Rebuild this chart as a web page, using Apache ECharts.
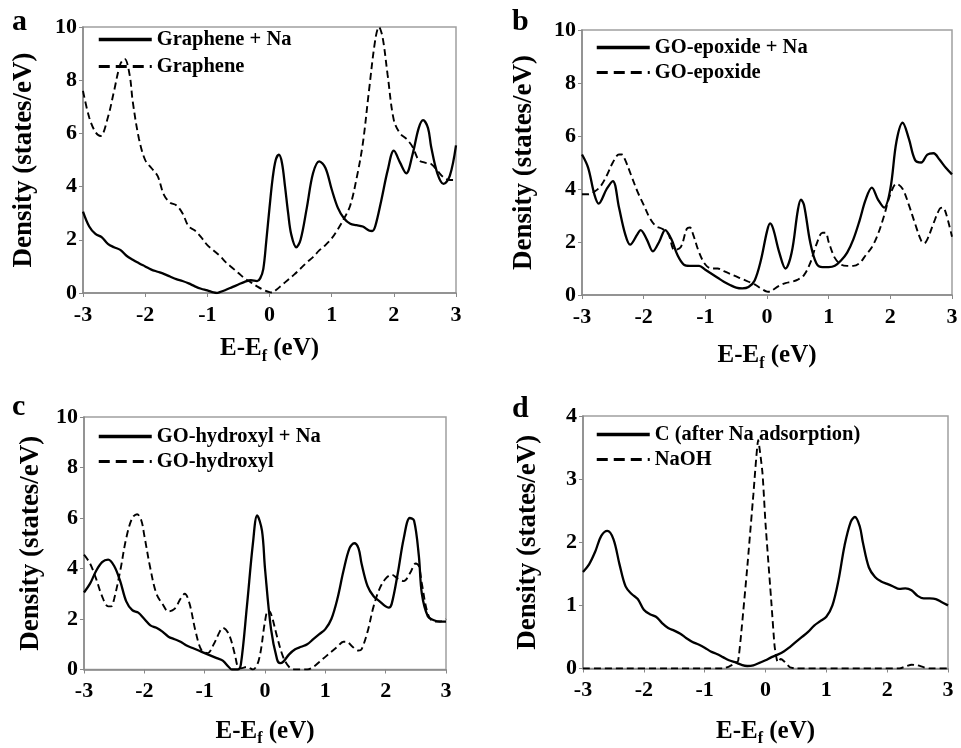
<!DOCTYPE html>
<html>
<head>
<meta charset="utf-8">
<script src="https://cdn.jsdelivr.net/npm/echarts@6/dist/echarts.min.js"></script>
<style>
  html, body { margin: 0; padding: 0; background: #fff; }
  #main { width: 961px; height: 748px; }
</style>
</head>
<body>
<div id="main"></div>
<script>
/* DOS panels a-d */
var xTicks = [-3, -2, -1, 0, 1, 2, 3];

// a: graphene
var grapheneNaE = [-3,-2.9,-2.8,-2.7,-2.6,-2.5,-2.4,-2.3,-2.2,-2.1,-2,-1.9,-1.8,-1.7,-1.6,-1.5,-1.4,-1.3,-1.2,-1.1,-1,-0.9,-0.85,-0.8,-0.7,-0.6,-0.5,-0.4,-0.3,-0.2,-0.15,-0.1,-0.05,0,0.05,0.1,0.15,0.2,0.25,0.3,0.35,0.43,0.5,0.6,0.7,0.8,0.9,1,1.1,1.2,1.3,1.4,1.5,1.6,1.65,1.7,1.8,1.9,2,2.1,2.2,2.3,2.4,2.47,2.55,2.6,2.7,2.8,2.9,3];
var grapheneNaD = [3.06,2.5,2.22,2.1,1.85,1.72,1.62,1.4,1.25,1.12,1.0,0.88,0.8,0.72,0.62,0.52,0.45,0.36,0.25,0.16,0.1,0.02,0.0,0.03,0.12,0.22,0.32,0.42,0.48,0.45,0.55,0.9,2.0,3.2,4.3,5.0,5.2,4.9,4.0,3.0,2.2,1.72,2.0,3.2,4.5,4.95,4.7,3.9,3.2,2.8,2.6,2.55,2.5,2.35,2.33,2.5,3.5,4.6,5.35,4.9,4.5,5.2,6.2,6.5,6.2,5.5,4.5,4.1,4.4,5.55];
var grapheneE = [-3,-2.9,-2.8,-2.72,-2.6,-2.5,-2.4,-2.33,-2.25,-2.2,-2.1,-2,-1.9,-1.8,-1.7,-1.6,-1.5,-1.4,-1.3,-1.2,-1.1,-1,-0.9,-0.8,-0.7,-0.6,-0.5,-0.4,-0.3,-0.2,-0.1,0,0.05,0.1,0.2,0.3,0.4,0.5,0.6,0.7,0.8,0.9,1,1.1,1.2,1.3,1.4,1.5,1.6,1.7,1.76,1.82,1.9,2,2.1,2.2,2.3,2.4,2.5,2.6,2.7,2.8,2.9,3];
var grapheneD = [7.6,6.6,6.05,5.9,6.6,7.6,8.6,8.8,8.2,7.2,5.8,5.0,4.7,4.4,3.7,3.4,3.3,3.0,2.5,2.35,2.1,1.8,1.6,1.4,1.15,0.95,0.75,0.55,0.4,0.25,0.12,0.03,0.02,0.1,0.3,0.5,0.7,0.92,1.15,1.35,1.6,1.8,2.05,2.4,2.8,3.3,4.3,5.6,7.6,9.5,10.0,9.6,8.2,6.5,6.0,5.8,5.5,5.0,4.9,4.85,4.6,4.35,4.25,4.25];

// b: GO-epoxide
var epoxideNaE = [-3,-2.9,-2.8,-2.73,-2.6,-2.5,-2.4,-2.3,-2.22,-2.1,-2.05,-1.95,-1.85,-1.75,-1.65,-1.55,-1.45,-1.35,-1.25,-1.1,-1,-0.9,-0.8,-0.7,-0.6,-0.5,-0.4,-0.3,-0.2,-0.1,0,0.05,0.1,0.2,0.3,0.4,0.5,0.55,0.6,0.7,0.8,0.9,1,1.1,1.2,1.3,1.4,1.5,1.6,1.7,1.8,1.9,2,2.1,2.2,2.3,2.4,2.5,2.6,2.7,2.8,2.9,3];
var epoxideNaD = [5.3,4.8,3.8,3.45,4.0,4.3,3.3,2.3,1.9,2.3,2.45,2.1,1.65,2.0,2.45,2.1,1.5,1.15,1.1,1.1,0.95,0.8,0.65,0.5,0.38,0.28,0.25,0.3,0.55,1.3,2.4,2.7,2.5,1.6,1.0,1.6,3.2,3.6,3.4,2.0,1.2,1.05,1.05,1.1,1.3,1.6,2.1,2.8,3.6,4.05,3.6,3.3,4.0,5.8,6.5,5.9,5.1,5.0,5.3,5.35,5.1,4.8,4.55];
var epoxideE = [-3,-2.9,-2.8,-2.7,-2.6,-2.5,-2.4,-2.35,-2.3,-2.2,-2.1,-2,-1.9,-1.8,-1.7,-1.6,-1.5,-1.4,-1.3,-1.25,-1.2,-1.1,-1,-0.9,-0.8,-0.7,-0.6,-0.5,-0.4,-0.3,-0.2,-0.1,0,0.05,0.1,0.2,0.3,0.4,0.5,0.6,0.7,0.8,0.9,0.95,1,1.1,1.2,1.3,1.4,1.5,1.6,1.7,1.8,1.9,2,2.1,2.2,2.3,2.4,2.5,2.55,2.6,2.7,2.8,2.85,2.9,3];
var epoxideD = [3.8,3.8,3.9,4.1,4.5,5.0,5.3,5.3,5.1,4.5,3.9,3.4,2.9,2.6,2.5,2.3,1.7,1.8,2.5,2.55,2.3,1.6,1.15,1.0,1.0,0.9,0.8,0.7,0.6,0.5,0.4,0.25,0.13,0.12,0.2,0.35,0.45,0.5,0.58,0.75,1.2,1.9,2.35,2.35,2.0,1.4,1.15,1.1,1.1,1.2,1.5,1.8,2.3,3.0,3.8,4.2,4.0,3.4,2.7,2.05,1.95,2.1,2.7,3.25,3.3,3.1,2.2];

// c: GO-hydroxyl
var hydroxylNaE = [-3,-2.9,-2.8,-2.7,-2.6,-2.5,-2.4,-2.3,-2.2,-2.1,-2,-1.9,-1.8,-1.7,-1.6,-1.5,-1.4,-1.3,-1.2,-1.1,-1,-0.9,-0.8,-0.7,-0.6,-0.55,-0.45,-0.4,-0.3,-0.2,-0.13,-0.05,0,0.1,0.2,0.25,0.3,0.4,0.5,0.6,0.7,0.8,0.9,1,1.1,1.2,1.3,1.4,1.48,1.55,1.6,1.7,1.8,1.9,2,2.05,2.1,2.2,2.3,2.4,2.47,2.55,2.6,2.7,2.8,2.9,3];
var hydroxylNaD = [3.05,3.4,3.9,4.25,4.35,4.1,3.5,2.7,2.35,2.25,2.0,1.75,1.65,1.5,1.3,1.2,1.1,0.95,0.85,0.75,0.65,0.55,0.45,0.35,0.1,0.0,0.0,0.2,2.5,5.0,6.1,5.5,4.0,1.6,0.4,0.25,0.3,0.6,0.8,0.9,1.0,1.2,1.4,1.6,2.0,2.8,3.9,4.8,5.0,4.8,4.2,3.3,2.9,2.7,2.5,2.45,2.6,3.8,5.2,6.0,5.9,4.5,3.0,2.1,1.95,1.9,1.9];
var hydroxylE = [-3,-2.9,-2.8,-2.7,-2.6,-2.55,-2.5,-2.4,-2.3,-2.2,-2.12,-2.05,-2,-1.9,-1.8,-1.7,-1.6,-1.5,-1.4,-1.33,-1.25,-1.15,-1.05,-0.95,-0.85,-0.75,-0.7,-0.6,-0.5,-0.45,-0.4,-0.3,-0.2,-0.1,0,0.05,0.1,0.2,0.3,0.4,0.5,0.6,0.7,0.8,0.9,1,1.1,1.2,1.3,1.35,1.45,1.55,1.6,1.7,1.8,1.9,2,2.1,2.2,2.3,2.4,2.5,2.55,2.6,2.7,2.8,2.9,3];
var hydroxylD = [4.55,4.2,3.6,2.9,2.5,2.5,2.8,3.9,5.2,6.0,6.15,5.9,5.3,4.0,3.0,2.6,2.3,2.4,2.8,3.0,2.6,1.5,0.75,0.65,1.0,1.5,1.65,1.4,0.6,0.1,0.05,0.1,0.0,0.4,1.9,2.35,2.2,1.3,0.5,0.1,0.0,0.0,0.0,0.1,0.3,0.5,0.7,0.9,1.1,1.1,0.9,0.75,0.8,1.5,2.5,3.2,3.6,3.75,3.6,3.5,3.8,4.2,4.1,3.4,2.2,1.9,1.9,2.0];

// d: C after Na adsorption / NaOH
var carbonE = [-3,-2.9,-2.8,-2.7,-2.6,-2.5,-2.4,-2.3,-2.2,-2.1,-2,-1.9,-1.8,-1.7,-1.6,-1.5,-1.4,-1.3,-1.2,-1.1,-1,-0.9,-0.8,-0.7,-0.6,-0.5,-0.4,-0.3,-0.2,-0.1,0,0.1,0.2,0.3,0.4,0.5,0.6,0.7,0.8,0.9,1,1.1,1.2,1.3,1.4,1.47,1.55,1.6,1.7,1.8,1.9,2,2.1,2.2,2.3,2.4,2.5,2.6,2.7,2.8,2.9,3];
var carbonD = [1.53,1.65,1.85,2.1,2.18,2.05,1.65,1.3,1.18,1.1,0.93,0.86,0.82,0.72,0.64,0.6,0.55,0.48,0.42,0.38,0.33,0.27,0.23,0.18,0.13,0.1,0.06,0.04,0.05,0.09,0.13,0.18,0.22,0.27,0.34,0.42,0.5,0.58,0.68,0.75,0.82,1.0,1.4,1.95,2.32,2.4,2.25,2.0,1.6,1.45,1.38,1.34,1.3,1.26,1.27,1.24,1.15,1.11,1.11,1.1,1.05,1.0];
var naohE = [-3,-0.7,-0.6,-0.5,-0.45,-0.4,-0.3,-0.2,-0.12,-0.05,0,0.1,0.15,0.2,0.25,0.3,0.4,0.5,2.2,2.3,2.4,2.5,2.6,2.7,3];
var naohD = [0,0,0.03,0.08,0.12,0.55,1.6,2.75,3.62,3.1,2.3,1.0,0.35,0.1,0.15,0.12,0.02,0,0,0.03,0.06,0.05,0.02,0,0];

var FONT = 'Liberation Serif, Times New Roman, serif';

function pairs(e, d) {
  var out = [];
  for (var i = 0; i < e.length; i++) out.push([e[i], d[i]]);
  return out;
}

var myChart = echarts.init(document.getElementById('main'));

var grids = [
  {left: 83, top: 27, width: 373, height: 266},
  {left: 582, top: 30, width: 370, height: 265},
  {left: 84, top: 417, width: 362, height: 259},
  {left: 583, top: 416, width: 365, height: 261}
];
var yMax = [10, 10, 10, 4];
var yStep = [2, 2, 2, 1];
var yGap = [45, 44, 39, 41];
var xGap = [42, 47, 48, 49];

var xAxes = [], yAxes = [];
for (var i = 0; i < 4; i++) {
  grids[i].show = true;
  grids[i].borderColor = '#a0a0a0';
  grids[i].borderWidth = 1.5;
  xAxes.push({
    type: 'value', gridIndex: i, min: xTicks[0], max: xTicks[xTicks.length - 1], interval: 1,
    axisLine: {onZero: false, lineStyle: {color: '#888', width: 1.5}},
    axisTick: {show: true, length: 4, lineStyle: {color: '#888'}},
    splitLine: {show: false},
    axisLabel: {color: '#000', fontFamily: FONT, fontWeight: 'bold', fontSize: 22, margin: 11},
    name: '{m|E-E}{s|f}{m| (eV)}',
    nameLocation: 'middle', nameGap: xGap[i],
    nameTextStyle: {
      rich: {
        m: {fontFamily: FONT, fontWeight: 'bold', fontSize: 25, color: '#000', lineHeight: 28},
        s: {fontFamily: FONT, fontWeight: 'bold', fontSize: 16, color: '#000', lineHeight: 28, padding: [15, 0, 0, 0]}
      }
    }
  });
  yAxes.push({
    type: 'value', gridIndex: i, min: 0, max: yMax[i], interval: yStep[i],
    axisLine: {show: true, onZero: false, lineStyle: {color: '#888', width: 1.5}},
    axisTick: {show: true, length: 4, lineStyle: {color: '#888'}},
    splitLine: {show: false},
    axisLabel: {color: '#000', fontFamily: FONT, fontWeight: 'bold', fontSize: 22, margin: 6},
    name: 'Density (states/eV)',
    nameLocation: 'middle', nameGap: yGap[i],
    nameTextStyle: {color: '#000', fontFamily: FONT, fontWeight: 'bold', fontSize: 27}
  });
}

function solid(name, idx, e, d) {
  return {
    name: name, type: 'line', xAxisIndex: idx, yAxisIndex: idx,
    data: pairs(e, d), smooth: 0.35, symbol: 'none',
    lineStyle: {color: '#000', width: 2.3, type: 'solid'},
    itemStyle: {color: '#000'}
  };
}
function dashed(name, idx, e, d, sm) {
  return {
    name: name, type: 'line', xAxisIndex: idx, yAxisIndex: idx,
    data: pairs(e, d), smooth: sm, symbol: 'none',
    lineStyle: {color: '#000', width: 1.9, type: [7, 4]},
    itemStyle: {color: '#000'}
  };
}

function legendAt(left, top, gap, names) {
  return {
    orient: 'vertical', left: left, top: top, itemGap: gap, padding: 0,
    itemWidth: 53, itemHeight: 14,
    itemStyle: {opacity: 0},
    textStyle: {color: '#000', fontFamily: FONT, fontWeight: 'bold', fontSize: 20.5},
    data: [
      {name: names[0], lineStyle: {width: 3.5, type: 'solid'}},
      {name: names[1], lineStyle: {width: 3, type: [11, 6]}}
    ]
  };
}

function letter(t, left, top) {
  return {text: t, left: left, top: top, padding: 0,
    textStyle: {color: '#000', fontFamily: FONT, fontWeight: 'bold', fontSize: 30}};
}

var option = {
  backgroundColor: '#fff',
  animation: false,
  title: [letter('a', 12, 7), letter('b', 512, 7), letter('c', 12, 392), letter('d', 512, 394)],
  legend: [
    legendAt(97, 29, 6, ['Graphene + Na', 'Graphene']),
    legendAt(595, 37, 4, ['GO-epoxide + Na', 'GO-epoxide']),
    legendAt(97, 426, 4, ['GO-hydroxyl + Na', 'GO-hydroxyl']),
    legendAt(595, 424, 4, ['C (after Na adsorption)', 'NaOH'])
  ],
  grid: grids,
  xAxis: xAxes,
  yAxis: yAxes,
  series: [
    solid('Graphene + Na', 0, grapheneNaE, grapheneNaD),
    dashed('Graphene', 0, grapheneE, grapheneD, 0.35),
    solid('GO-epoxide + Na', 1, epoxideNaE, epoxideNaD),
    dashed('GO-epoxide', 1, epoxideE, epoxideD, 0.35),
    solid('GO-hydroxyl + Na', 2, hydroxylNaE, hydroxylNaD),
    dashed('GO-hydroxyl', 2, hydroxylE, hydroxylD, 0.35),
    solid('C (after Na adsorption)', 3, carbonE, carbonD),
    dashed('NaOH', 3, naohE, naohD, 0.15)
  ]
};
myChart.setOption(option);
</script>
</body>
</html>
